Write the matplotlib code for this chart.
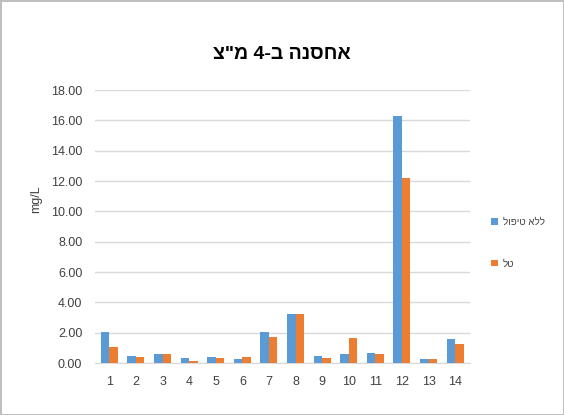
import matplotlib
matplotlib.use("Agg")
import matplotlib.pyplot as plt
import numpy as np

plt.rcParams['font.family'] = ['Liberation Sans', 'DejaVu Sans']


def rtl(s):
    # matplotlib has no bidi support, so Hebrew runs are laid out reversed
    return s[::-1]


categories = [str(i) for i in range(1, 15)]
series_names = ["ללא טיפול", "טל"]
untreated = [2.05, 0.45, 0.62, 0.35, 0.40, 0.30, 2.05, 3.25, 0.45, 0.60, 0.65, 16.3, 0.25, 1.62]
treated = [1.07, 0.40, 0.60, 0.12, 0.35, 0.40, 1.70, 3.25, 0.35, 1.63, 0.62, 12.2, 0.25, 1.28]
yticks = np.arange(0, 20, 2)

blue = '#5B9BD5'
orange = '#ED7D31'

fig = plt.figure(figsize=(5.64, 4.15), dpi=100)
fig.patch.set_facecolor('white')
fig.patch.set_edgecolor('#BFBFBF')
fig.patch.set_linewidth(2)

ax = fig.add_axes([0.168, 0.125, 0.665, 0.658])
x = np.arange(len(categories))
w = 0.32
ax.bar(x - w / 2, untreated, w, color=blue, label=rtl(series_names[0]), zorder=3)
ax.bar(x + w / 2, treated, w, color=orange, label=rtl(series_names[1]), zorder=3)

ax.set_xlim(-0.55, len(categories) - 0.45)
ax.set_ylim(0, 18)
ax.set_yticks(yticks)
ax.set_yticklabels([f"{v:.2f}" for v in yticks], fontsize=9, color='#404040')
ax.set_xticks(x)
ax.set_xticklabels(categories, fontsize=9, color='#404040')
ax.tick_params(length=0, pad=9)
ax.yaxis.grid(True, color='#D9D9D9', linewidth=1, zorder=0)
for side in ['top', 'right', 'left']:
    ax.spines[side].set_visible(False)
ax.spines['bottom'].set_color('#D9D9D9')

ax.set_title(rtl('אחסנה ב-4 מ"צ'), fontsize=14, fontweight='bold', pad=22)
fig.text(0.064, 0.52, 'mg/L', rotation=90, ha='center', va='center',
         fontsize=9, color='#404040')

fig.legend(loc='center left', bbox_to_anchor=(0.855, 0.415), frameon=False,
           fontsize=7, handlelength=0.7, handleheight=0.7, labelspacing=3.2,
           handletextpad=0.5, labelcolor='#404040')

fig.savefig('out.png', dpi=100)
